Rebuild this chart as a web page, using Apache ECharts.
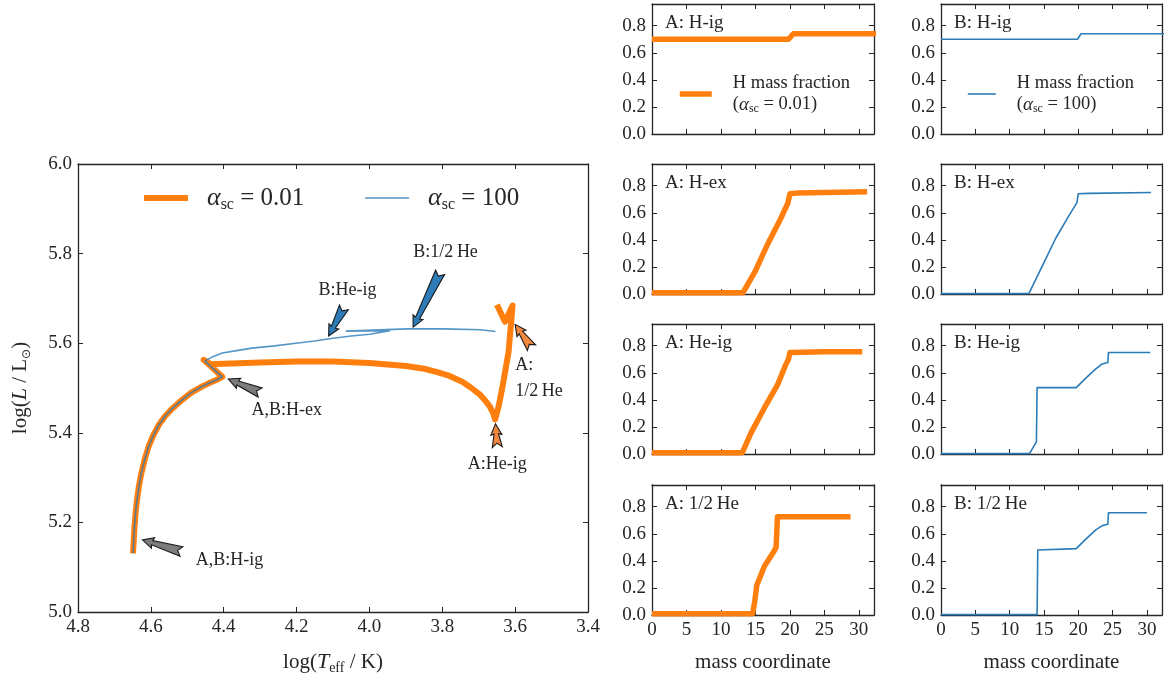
<!DOCTYPE html>
<html><head><meta charset="utf-8">
<script src="https://cdn.jsdelivr.net/npm/echarts@6/dist/echarts.min.js"></script>
<style>html,body{margin:0;padding:0;background:#fff}#c{width:1166px;height:680px}</style>
</head><body><div id="c"></div>
<script>
// ---------------- DATA ----------------
// HR diagram: [log Teff, log L]
const trackA = [
  [4.649,5.131],[4.647,5.160],[4.645,5.190],[4.642,5.220],[4.638,5.250],[4.633,5.280],[4.626,5.310],
  [4.617,5.340],[4.606,5.370],[4.593,5.395],[4.578,5.418],[4.560,5.438],[4.540,5.455],[4.515,5.473],
  [4.490,5.489],[4.465,5.501],[4.440,5.511],[4.420,5.518],[4.404,5.525],[4.455,5.563],[4.435,5.553],
  [4.400,5.554],[4.300,5.557],[4.200,5.559],[4.100,5.559],[4.000,5.556],[3.900,5.549],[3.850,5.543],
  [3.816,5.536],[3.780,5.527],[3.745,5.514],[3.720,5.500],[3.695,5.484],[3.680,5.470],[3.669,5.458],
  [3.660,5.443],[3.655,5.430],[3.645,5.460],[3.634,5.506],[3.618,5.581],[3.607,5.684],[3.628,5.648],
  [3.650,5.686]
];
const trackB = [
  [4.649,5.131],[4.647,5.160],[4.645,5.190],[4.642,5.220],[4.638,5.250],[4.633,5.280],[4.626,5.310],
  [4.617,5.340],[4.606,5.370],[4.593,5.395],[4.578,5.418],[4.560,5.438],[4.540,5.455],[4.515,5.473],
  [4.490,5.489],[4.465,5.501],[4.440,5.511],[4.420,5.518],[4.404,5.525],[4.452,5.560],[4.430,5.570],
  [4.404,5.578],[4.360,5.584],[4.323,5.589],[4.260,5.594],[4.202,5.600],[4.150,5.605],[4.100,5.611],
  [4.050,5.616],[3.999,5.620],[3.943,5.628],[4.065,5.627],[3.897,5.632],[3.796,5.632],[3.695,5.630],
  [3.654,5.626]
];
const seriesNames = ['αsc = 0.01', 'αsc = 100'];
const xTickStepMain = 0.2, yTickStepMain = 0.2;

// annotations: tail, head, label position, text, colour key
const annTail  = [[4.516,5.135],[4.300,5.490],[4.070,5.680],[3.806,5.758],[3.555,5.590],[3.649,5.368]];
const annHead  = [[4.623,5.161],[4.387,5.520],[4.112,5.616],[3.880,5.636],[3.600,5.642],[3.654,5.420]];
const annLabel = [[4.384,5.115],[4.227,5.451],[4.060,5.718],[3.791,5.803],[3.600,5.522],[3.649,5.330]];
const annText  = ['A,B:H-ig','A,B:H-ex','B:He-ig','B:1/2\u2009He','A:\n1/2\u2009He','A:He-ig'];
const annKind  = ['gray','gray','blue','blue','orange','orange'];
const annAlign = ['center','center','center','center','left','center'];

// H mass fraction profiles: [mass coordinate, X_H]
const hA_Hig  = [[0,0.70],[19.8,0.70],[20.5,0.74],[32.5,0.74]];
const hB_Hig  = [[0,0.70],[19.9,0.70],[20.4,0.74],[32.5,0.74]];
const hA_Hex  = [[0,0.01],[13.2,0.01],[15.0,0.17],[16.6,0.35],[18.6,0.55],[19.7,0.67],[20.0,0.74],[21.0,0.745],[25,0.75],[31.2,0.755]];
const hB_Hex  = [[0,0.003],[12.8,0.003],[14.7,0.20],[16.7,0.41],[18.6,0.575],[19.8,0.675],[20.0,0.74],[21.5,0.743],[30.6,0.75]];
const hA_Heig = [[0,0.01],[13.1,0.01],[14.4,0.16],[16.3,0.34],[18.2,0.51],[19.4,0.66],[19.8,0.70],[20.0,0.75],[25,0.755],[30.5,0.755]];
const hB_Heig = [[0,0.003],[12.9,0.003],[13.9,0.09],[14.0,0.49],[19.7,0.49],[21.1,0.56],[22.6,0.63],[23.5,0.665],[24.3,0.675],[24.4,0.75],[30.5,0.75]];
const hA_half = [[0,0.01],[14.6,0.01],[14.9,0.10],[15.2,0.22],[16.3,0.36],[17.7,0.47],[18.0,0.50],[18.2,0.725],[28.8,0.725]];
const hB_half = [[0,0.003],[14.0,0.003],[14.1,0.48],[19.7,0.49],[21.1,0.56],[22.6,0.63],[23.5,0.66],[24.3,0.67],[24.4,0.755],[30.0,0.755]];
const panelData   = [hA_Hig, hB_Hig, hA_Hex, hB_Hex, hA_Heig, hB_Heig, hA_half, hB_half];
const panelTitles = ['A: H-ig','B: H-ig','A: H-ex','B: H-ex','A: He-ig','B: He-ig','A: 1/2\u2009He','B: 1/2\u2009He'];
const panelXMax = 32.2, panelYMax = 0.96, panelXStep = 5, panelYStep = 0.2;

// ---------------- STYLE / LAYOUT ----------------
const FONT = 'Liberation Serif';
const ORANGE = '#ff7f0e', BLUE = '#2b7cb8', INK = '#262626';
const kindFill = {gray:'#7c7c7c', blue:'#2d7bb7', orange:'#f0883e'};

const option = {animation:false, backgroundColor:'#fff', textStyle:{fontFamily:FONT, color:INK},
  grid:[], xAxis:[], yAxis:[], series:[], title:[], legend:[]};

function labelCfg(show, fmt){
  if (!show) return {show:false};
  return {show:true, fontFamily:FONT, fontSize:19, color:INK, margin:6, showMinLabel:true, formatter:fmt};
}

function addGrid(rect, xs, ys) {
  const gi = option.grid.length;
  option.grid.push(Object.assign({containLabel:false}, rect));
  const tick = {show:true, inside:true, length:5, lineStyle:{color:INK, width:1}};
  const line = {show:true, onZero:false, lineStyle:{color:INK, width:1.3}};
  ['bottom','top'].forEach((pos,k)=>{
    const al = labelCfg(k===0 && xs.labels, xs.fmt); if (al.show) al.showMaxLabel = xs.showMax;
    option.xAxis.push({type:'value', gridIndex:gi, position:pos, min:xs.min, max:xs.max, interval:xs.step, inverse:!!xs.inverse,
      axisLine:line, axisTick:tick, splitLine:{show:false}, axisLabel:al,
      name:k===0 ? (xs.name||'') : '', nameLocation:'middle', nameGap:xs.nameGap||30,
      nameTextStyle:xs.nameStyle||{}});
  });
  ['left','right'].forEach((pos,k)=>{
    const al = labelCfg(k===0 && ys.labels, ys.fmt); if (al.show) al.showMaxLabel = ys.showMax;
    option.yAxis.push({type:'value', gridIndex:gi, position:pos, min:ys.min, max:ys.max, interval:ys.step,
      axisLine:line, axisTick:tick, splitLine:{show:false}, axisLabel:al,
      name:k===0 ? (ys.name||'') : '', nameLocation:'middle', nameGap:ys.nameGap||30, nameRotate:90,
      nameTextStyle:ys.nameStyle||{}});
  });
  return gi;
}

const subRich = {
  r:{fontFamily:FONT, fontSize:21, color:INK, lineHeight:26},
  i:{fontFamily:FONT, fontSize:22, fontStyle:'italic', color:INK, lineHeight:26},
  s:{fontFamily:FONT, fontSize:14, color:INK, lineHeight:18, verticalAlign:'bottom'},
  o:{fontFamily:'DejaVu Sans', fontSize:12, color:INK, lineHeight:16, verticalAlign:'bottom'}
};
const legRich = {
  g:{width:14},
  r:{fontFamily:FONT, fontSize:25, color:INK, lineHeight:30},
  i:{fontFamily:FONT, fontSize:26, fontStyle:'italic', color:INK, lineHeight:30},
  s:{fontFamily:FONT, fontSize:16, color:INK, lineHeight:21, verticalAlign:'bottom'}
};

const f1 = v=>v.toFixed(1), f0 = v=>String(v);
// main HR grid
addGrid({left:78, top:164, width:510, height:450},
  {min:3.4, max:4.8, step:xTickStepMain, inverse:true, labels:true, showMax:true, fmt:f1,
   name:'{r|log(}{i|T}{s|eff}{r| / K)}', nameGap:37, nameStyle:{rich:subRich}},
  {min:5.0, max:6.0, step:yTickStepMain, labels:true, showMax:true, fmt:f1,
   name:'{r|log(}{i|L}{r| / L}{o|⊙}{r|)}', nameGap:45, nameStyle:{rich:subRich}});

option.series.push({name:seriesNames[0], type:'line', xAxisIndex:0, yAxisIndex:0, data:trackA, symbol:'none', showSymbol:false,
  lineStyle:{color:ORANGE, width:6, join:'round'}, itemStyle:{color:ORANGE}, z:3});
option.series.push({name:seriesNames[1], type:'line', xAxisIndex:0, yAxisIndex:0, data:trackB, symbol:'none', showSymbol:false,
  lineStyle:{color:BLUE, width:1.6, opacity:0.8}, itemStyle:{color:BLUE}, z:4});

const annData = annTail.map((t,i)=>[t[0],t[1],annHead[i][0],annHead[i][1],annLabel[i][0],annLabel[i][1]]);
option.series.push({type:'custom', xAxisIndex:0, yAxisIndex:0, data:annData, encode:{x:[0,2,4], y:[1,3,5]}, z:6, clip:false,
  renderItem(params, api){
    const i = params.dataIndex;
    const t = api.coord([api.value(0), api.value(1)]);
    const h = api.coord([api.value(2), api.value(3)]);
    const lp = api.coord([api.value(4), api.value(5)]);
    const dx=t[0]-h[0], dy=t[1]-h[1], L=Math.hypot(dx,dy), ux=dx/L, uy=dy/L, px=-uy, py=ux;
    const P=(u,v)=>[h[0]+ux*u+px*v, h[1]+uy*u+py*v];
    const pts=[P(0,0),P(11,5.5),P(10,2.2),P(L,5),P(L-4,0),P(L,-5),P(10,-2.2),P(11,-5.5)];
    return {type:'group', children:[
      {type:'polygon', shape:{points:pts}, style:{fill:kindFill[annKind[i]], stroke:'#1a1a1a', lineWidth:1.1}},
      {type:'text', x:lp[0], y:lp[1], style:{text:annText[i], fill:INK, font:'18px "Liberation Serif"', align:annAlign[i], verticalAlign:'middle', lineHeight:26}}
    ]};
  }});

option.legend.push({data:[{name:seriesNames[0], lineStyle:{width:6}}, {name:seriesNames[1], lineStyle:{width:1.6}}],
  left:136, top:180, itemWidth:44, itemHeight:14, itemGap:60, itemStyle:{opacity:0}, selectedMode:false,
  formatter:n=> n===seriesNames[0] ? '{g|}{i|α}{s|sc}{r| = 0.01}' : '{g|}{i|α}{s|sc}{r| = 100}',
  textStyle:{fontFamily:FONT, fontSize:25, rich:legRich}});

// panels
const colLeft=[652,941], colW=[222,221], rowTop=[4,164,324,485], rowH=130;
for (let r=0;r<4;r++) for (let c=0;c<2;c++){
  const k = r*2+c;
  const bottom = r===3;
  const gi = addGrid({left:colLeft[c], top:rowTop[r], width:colW[c], height:rowH},
    {min:0, max:panelXMax, step:panelXStep, labels:bottom, showMax:false, fmt:f0,
     name:bottom?'mass coordinate':'', nameGap:37, nameStyle:{fontFamily:FONT, fontSize:21, color:INK}},
    {min:0, max:panelYMax, step:panelYStep, labels:true, showMax:false, fmt:f1});
  const isA = c===0;
  option.series.push({name:panelTitles[k], type:'line', xAxisIndex:2*gi, yAxisIndex:2*gi, data:panelData[k], symbol:'none', showSymbol:false,
    lineStyle:{color:isA?ORANGE:BLUE, width:isA?5.5:1.6, join:'round'}, itemStyle:{color:isA?ORANGE:BLUE}, z:3});
  option.title.push({text:panelTitles[k], left:colLeft[c]+8, top:rowTop[r]+5,
    textStyle:{fontFamily:FONT, fontSize:19, fontWeight:'normal', color:INK}});
}
const panelRich = {
  g:{width:16},
  a:{fontFamily:FONT, fontSize:18.5, color:INK, lineHeight:21},
  i:{fontFamily:FONT, fontSize:19, fontStyle:'italic', color:INK, lineHeight:21},
  s:{fontFamily:FONT, fontSize:12, color:INK, lineHeight:14, verticalAlign:'bottom'}
};
option.legend.push({data:[{name:panelTitles[0], lineStyle:{width:5.5}}], left:672, top:69, itemWidth:32, itemHeight:12,
  itemStyle:{opacity:0}, selectedMode:false,
  formatter:()=> '{g|}{a|H mass fraction}\n{g|}{a|(}{i|α}{s|sc}{a| = 0.01)}', textStyle:{fontFamily:FONT, fontSize:18.5, rich:panelRich}});
option.legend.push({data:[{name:panelTitles[1], lineStyle:{width:1.6}}], left:962, top:69, itemWidth:28, itemHeight:12,
  itemStyle:{opacity:0}, selectedMode:false,
  formatter:()=> '{g|}{a|H mass fraction}\n{g|}{a|(}{i|α}{s|sc}{a| = 100)}', textStyle:{fontFamily:FONT, fontSize:18.5, rich:panelRich}});

const chart = echarts.init(document.getElementById('c'), null, {renderer:'canvas'});
chart.setOption(option);
</script></body></html>
